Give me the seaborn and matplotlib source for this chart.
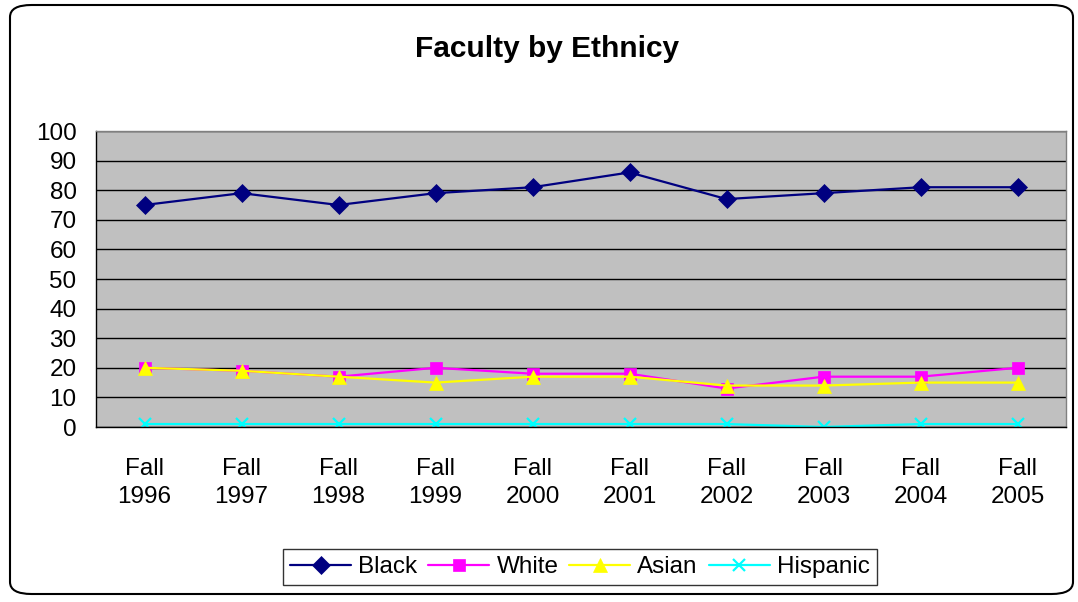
import matplotlib
matplotlib.use("Agg")
import matplotlib.pyplot as plt
import seaborn as sns
import pandas as pd
from matplotlib.patches import FancyBboxPatch

years = ["Fall\n1996", "Fall\n1997", "Fall\n1998", "Fall\n1999", "Fall\n2000",
         "Fall\n2001", "Fall\n2002", "Fall\n2003", "Fall\n2004", "Fall\n2005"]
black = [75, 79, 75, 79, 81, 86, 77, 79, 81, 81]
white = [20, 19, 17, 20, 18, 18, 13, 17, 17, 20]
asian = [20, 19, 17, 15, 17, 17, 14, 14, 15, 15]
hispanic = [1, 1, 1, 1, 1, 1, 1, 0, 1, 1]

series = {"Black": black, "White": white, "Asian": asian, "Hispanic": hispanic}
colors = {"Black": "#000080", "White": "#FF00FF", "Asian": "#FFFF00", "Hispanic": "#00FFFF"}
markers = {"Black": "D", "White": "s", "Asian": "^", "Hispanic": "x"}
msizes = {"Black": 9, "White": 8.5, "Asian": 9.5, "Hispanic": 9}

df = pd.DataFrame({"x": list(range(len(years))) * 4,
                   "value": black + white + asian + hispanic,
                   "group": sum([[k] * len(years) for k in series], [])})

sns.set_style("white")
plt.rcParams["font.family"] = ["Liberation Sans", "DejaVu Sans"]
plt.rcParams["text.color"] = "black"
plt.rcParams["xtick.color"] = "black"
plt.rcParams["ytick.color"] = "black"

fig = plt.figure(figsize=(10.78, 6.02), dpi=100)
ax = fig.add_axes([96 / 1078, 1 - 427 / 602, (1066 - 96) / 1078, (427 - 131) / 602])
ax.set_facecolor("#C0C0C0")

for name in series:
    sub = df[df["group"] == name]
    sns.lineplot(data=sub, x="x", y="value", ax=ax, color=colors[name],
                 marker=markers[name], markersize=msizes[name], markeredgecolor=colors[name],
                 markeredgewidth=1.6 if markers[name] == "x" else 0.5,
                 linewidth=1.6, label=name, legend=False)

ax.set_xlim(-0.5, len(years) - 0.5)
ax.set_ylim(0, 100)
ax.set_yticks(range(0, 101, 10))
ax.yaxis.grid(True, color="black", linewidth=1)
ax.set_axisbelow(True)
ax.set_xticks(range(len(years)))
ax.set_xticklabels(years, fontsize=17.5, linespacing=1.38)
ax.set_xticks([i - 0.5 for i in range(len(years) + 1)], minor=True)
ax.tick_params(axis="x", which="major", length=0, pad=22)
ax.tick_params(axis="x", which="minor", length=6, width=1, color="black", direction="out")
ax.tick_params(axis="y", length=6, width=1, color="black", direction="out", labelsize=17.5, pad=8)
ax.set_xlabel("")
ax.set_ylabel("")
for side in ["left", "bottom"]:
    ax.spines[side].set_color("black")
    ax.spines[side].set_linewidth(1)
for side in ["top", "right"]:
    ax.spines[side].set_color("#808080")
    ax.spines[side].set_linewidth(1)

fig.text(547 / 1078, 1 - 49 / 602, "Faculty by Ethnicy", ha="center", va="center",
         fontsize=21.5, fontweight="bold")

leg = fig.legend(*ax.get_legend_handles_labels(), loc="center", ncol=4,
                 bbox_to_anchor=(580 / 1078, 1 - 567 / 602), fontsize=17.5,
                 frameon=True, fancybox=False, edgecolor="black",
                 handlelength=2.5, handletextpad=0.3, columnspacing=0.45,
                 borderpad=0.3)
leg.get_frame().set_linewidth(1)

border = FancyBboxPatch((10 / 1078, 8 / 602), 1063 / 1078, 589 / 602,
                        boxstyle="round,pad=0,rounding_size=0.02",
                        transform=fig.transFigure, facecolor="none",
                        edgecolor="black", linewidth=1.5)
fig.patches.append(border)

fig.savefig("out.png", dpi=100)
